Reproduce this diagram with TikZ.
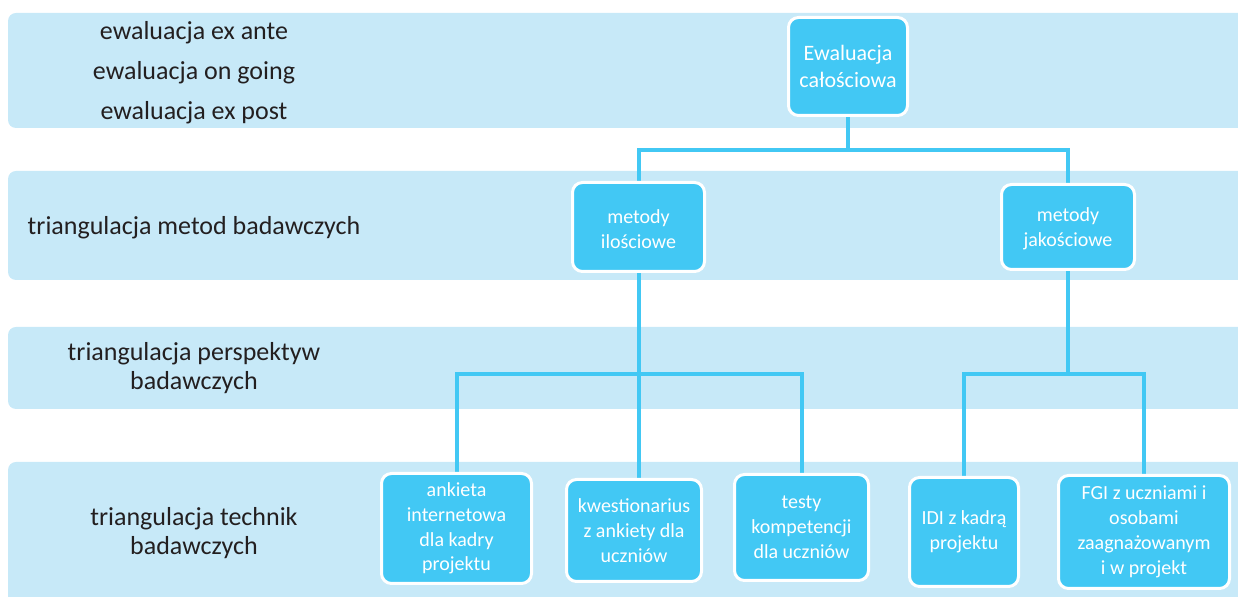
\documentclass[tikz,border=0pt]{standalone}
\usepackage{fontspec}
\setmainfont{Carlito}
\definecolor{band}{HTML}{C7E9F8}
\definecolor{boxc}{HTML}{42C8F4}
\definecolor{txt}{HTML}{231F20}
\pgfdeclarelayer{bg}
\pgfdeclarelayer{wires}
\pgfsetlayers{bg,wires,main}
\begin{document}
\begin{tikzpicture}[x=0.5pt,y=-0.5pt,
  bandfill/.style={fill=band, rounded corners=4pt},
  lbl/.style={text=txt, font=\fontsize{13}{14.5}\selectfont, align=center, inner sep=0pt},
  boxn/.style={fill=boxc, draw=white, line width=1.5pt, rounded corners=5pt, text=white, font=\fontsize{10}{12.4}\selectfont, align=center, inner sep=0pt},
  wire/.style={draw=boxc, line width=2pt}]
\useasboundingbox (0,0) rectangle (1238,597);
\clip (0,0) rectangle (1238,597);
\begin{pgfonlayer}{bg}
\fill[bandfill] (8,13) rectangle (1260,128);
\fill[bandfill] (8,171) rectangle (1260,280);
\fill[bandfill] (8,327) rectangle (1260,409);
\fill[bandfill] (8,462) rectangle (1260,610);
\end{pgfonlayer}
% left labels
\node[lbl] (l1) at (194,32.5) {ewaluacja ex ante};
\node[lbl] (l2) at (194,72.5) {ewaluacja on going};
\node[lbl] (l3) at (194,112.5) {ewaluacja ex post};
\node[lbl] (l4) at (194,228) {triangulacja metod badawczych};
\node[lbl] (l5) at (194,368) {triangulacja perspektyw\\badawczych};
\node[lbl] (l6) at (194,533.5) {triangulacja technik\\badawczych};
% boxes
\node[boxn, minimum width=59.5pt, minimum height=49pt, font=\fontsize{11}{13.5}\selectfont] (E) at (848,66.5) {Ewaluacja\\całościowa};
\node[boxn, minimum width=66pt, minimum height=44.5pt] (MI) at (638.5,227) {\rule{0pt}{9pt}metody\\ilościowe};
\node[boxn, minimum width=66.5pt, minimum height=42.5pt] (MJ) at (1068,227) {\rule{0pt}{9pt}metody\\jakościowe};
\node[boxn, minimum width=75pt, minimum height=55pt] (A) at (456.5,528.5) {ankieta\\internetowa\\dla kadry\\projektu};
\node[boxn, minimum width=67.5pt, minimum height=51pt] (K) at (634,530.5) {kwestionarius\\z ankiety dla\\uczniów};
\node[boxn, minimum width=67pt, minimum height=53pt] (T) at (801.5,527.5) {testy\\kompetencji\\dla uczniów};
\node[boxn, minimum width=54.5pt, minimum height=54.5pt] (I) at (964,532) {IDI z kadrą\\projektu};
\node[boxn, minimum width=85.5pt, minimum height=56.5pt] (F) at (1144,532) {FGI z uczniami i\\osobami\\zaagnażowanym\\i w projekt};
% junctions
\coordinate (j1) at (848,150);
\coordinate (j2) at (638.5,374);
\coordinate (j3) at (1068,374);
\begin{pgfonlayer}{wires}
\draw[wire] (E.south) -- (j1);
\draw[wire] (MI.north) |- (j1) -| (MJ.north);
\draw[wire] (MI.south) -- (MI.south |- K.north);
\draw[wire] (A.north) |- (j2) -| (T.north);
\draw[wire] (MJ.south) -- (j3);
\draw[wire] (I.north) |- (j3) -| (F.north);
\end{pgfonlayer}
\end{tikzpicture}
\end{document}
